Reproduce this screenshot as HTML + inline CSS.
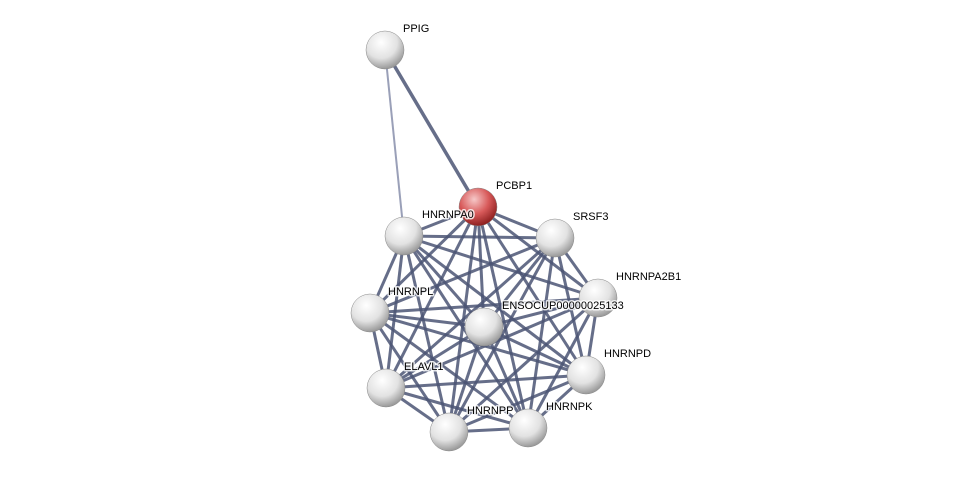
<!DOCTYPE html>
<html><head><meta charset="utf-8"><style>
html,body{margin:0;padding:0;background:#fff;width:976px;height:478px;overflow:hidden}
text{font-family:"Liberation Sans",sans-serif;font-size:11px;fill:#000;stroke:#fff;stroke-width:3px;stroke-opacity:0.8;paint-order:stroke;stroke-linejoin:round}
</style></head><body>
<svg width="976" height="478" viewBox="0 0 976 478" xmlns="http://www.w3.org/2000/svg">
<defs>
<radialGradient id="g" cx="40%" cy="30%" r="70%">
<stop offset="0" stop-color="#ffffff"/><stop offset="0.6" stop-color="#e2e2e2"/><stop offset="1" stop-color="#9a9a9a"/></radialGradient>
<radialGradient id="r" cx="40%" cy="30%" r="70%">
<stop offset="0" stop-color="#f6c8c8"/><stop offset="0.55" stop-color="#d85a5a"/><stop offset="1" stop-color="#8e2020"/></radialGradient>
</defs>
<g stroke="#4b5574" stroke-opacity="0.85" stroke-width="3" id="edges"></g>
<line x1="385" y1="50" x2="478" y2="207" stroke="#4b5574" stroke-width="3.5" stroke-opacity="0.85"/>
<line x1="385" y1="50" x2="404" y2="236" stroke="#9aa0b8" stroke-width="2"/>
<g id="nodes"></g>
</svg>
<script>
var N=[["PPIG",385,50],["PCBP1",478,207],["HNRNPA0",404,236],["SRSF3",555,238],["HNRNPA2B1",598,298],["HNRNPL",370,313],["ENSOCUP00000025133",484,327],["HNRNPD",586,375],["ELAVL1",386,388],["HNRNPP",449,432],["HNRNPK",528,428]];
var ns="http://www.w3.org/2000/svg",E=document.getElementById("edges"),G=document.getElementById("nodes");
for(var i=1;i<N.length;i++)for(var j=i+1;j<N.length;j++){var l=document.createElementNS(ns,"line");l.setAttribute("x1",N[i][1]);l.setAttribute("y1",N[i][2]);l.setAttribute("x2",N[j][1]);l.setAttribute("y2",N[j][2]);E.appendChild(l);}
N.forEach(function(n,k){var c=document.createElementNS(ns,"circle");c.setAttribute("cx",n[1]);c.setAttribute("cy",n[2]);c.setAttribute("r",19);c.setAttribute("fill",k==1?"url(#r)":"url(#g)");c.setAttribute("stroke","#888");c.setAttribute("stroke-width","0.5");G.appendChild(c);});
N.forEach(function(n){var t=document.createElementNS(ns,"text");t.setAttribute("x",n[1]+18);t.setAttribute("y",n[2]-18);t.textContent=n[0];G.appendChild(t);});
</script>
</body></html>
